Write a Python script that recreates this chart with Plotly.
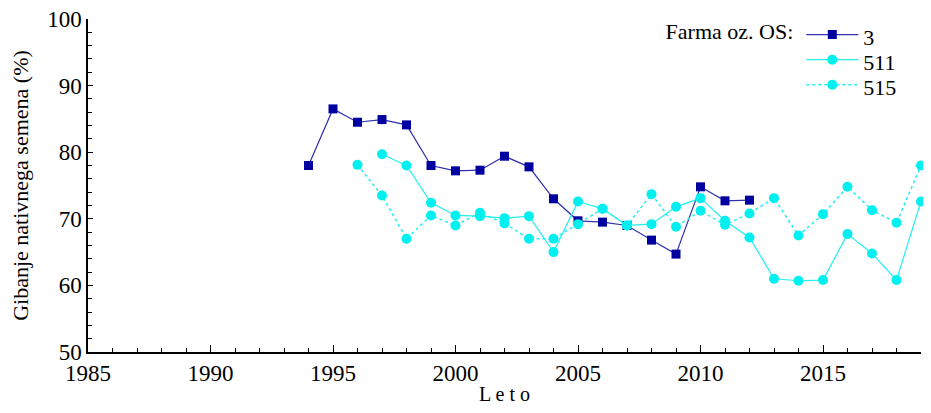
import plotly.graph_objects as go

years_3 = list(range(1994, 2013))
vals_3 = [78.0, 86.5, 84.5, 84.9, 84.1, 78.0, 77.2, 77.3, 79.4, 77.8, 73.0,
          69.7, 69.5, 69.0, 66.8, 64.7, 74.8, 72.7, 72.8]

years_511 = list(range(1997, 2020))
vals_511 = [79.7, 78.0, 72.4, 70.5, 70.4, 70.1, 70.4, 65.0, 72.6, 71.5, 69.0,
            69.2, 71.8, 73.1, 69.7, 67.2, 61.0, 60.7, 60.8, 67.7, 64.8, 60.8, 72.6]

years_515 = list(range(1996, 2020))
vals_515 = [78.1, 73.5, 67.0, 70.5, 69.0, 70.9, 69.3, 67.0, 67.0, 69.2, 71.5,
            69.0, 73.7, 68.8, 71.2, 69.1, 70.8, 73.1, 67.5, 70.7, 74.8, 71.3, 69.4, 78.0]

legend_title = "Farma oz. OS:"

font = "Liberation Serif, Times New Roman, serif"


def big(t):
    return '<sub><span style="font-size:22px">' + t + '</span></sub>'


fig = go.Figure()
fig.add_trace(go.Scatter(x=years_3, y=vals_3, name=big("3"), mode="lines+markers",
                         cliponaxis=False,
                         line=dict(color="#3030b0", width=1.2),
                         marker=dict(symbol="square", size=9, color="#0000a0")))
fig.add_trace(go.Scatter(x=years_511, y=vals_511, name=big("511"), mode="lines+markers",
                         cliponaxis=False,
                         line=dict(color="#20f0f0", width=1.2),
                         marker=dict(symbol="circle", size=10, color="#00f0f0")))
fig.add_trace(go.Scatter(x=years_515, y=vals_515, name=big("515"), mode="lines+markers",
                         cliponaxis=False,
                         line=dict(color="#20f0f0", width=1.5, dash="dot"),
                         marker=dict(symbol="circle", size=10, color="#00f0f0")))

# page body has an 8px margin; figure is sized so the plot area lands where the reference's does
fig.update_layout(
    width=923, height=405,
    margin=dict(l=80, r=9.5, t=11, b=60.5, autoexpand=False),
    paper_bgcolor="white", plot_bgcolor="white",
    font=dict(family=font, size=22, color="black"),
    showlegend=True,
    legend=dict(x=0.691, y=1.006, xanchor="left", yanchor="top",
                title=dict(text='<span style="font-size:22px">' + legend_title + '</span>',
                           side="left", font=dict(size=17)),
                bgcolor="rgba(0,0,0,0)", tracegroupgap=0,
                font=dict(size=17), itemwidth=52),
    xaxis=dict(range=[1985, 2019], dtick=5, tick0=1985,
               showline=True, linecolor="black", linewidth=1.5,
               ticks="inside", ticklen=7, tickwidth=1, tickcolor="black",
               minor=dict(dtick=1, ticks="inside", ticklen=4, tickcolor="black"),
               showgrid=False, zeroline=False, tickfont=dict(size=23),
               ticklabeloverflow="allow",
               title=dict(text="L e t o", standoff=2, font=dict(size=20))),
    yaxis=dict(range=[50, 100], dtick=10,
               showline=True, linecolor="black", linewidth=1.5,
               ticks="inside", ticklen=5, tickwidth=1, tickcolor="black",
               minor=dict(dtick=2, ticks="inside", ticklen=4, tickcolor="black"),
               showgrid=False, zeroline=False, tickfont=dict(size=23),
               ticklabeloverflow="allow",
               title=dict(text="Gibanje nativnega semena (%)", standoff=13, font=dict(size=22))),
)

fig.write_html("out.html")
